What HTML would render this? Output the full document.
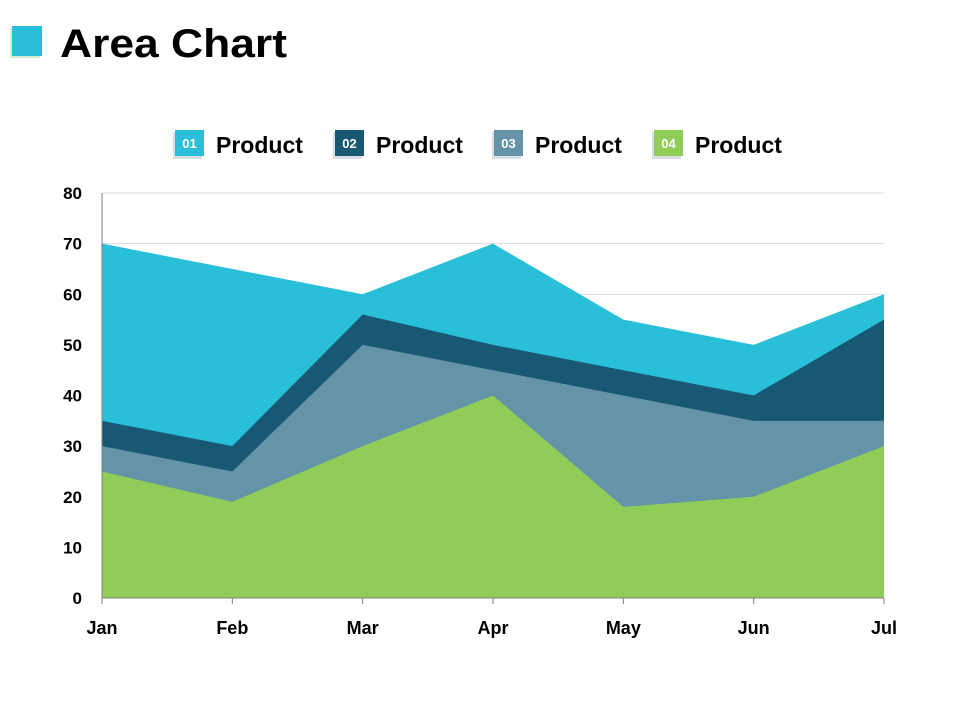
<!DOCTYPE html>
<html><head><meta charset="utf-8"><style>
body{margin:0;background:#fff;}
svg{display:block;font-family:"Liberation Sans",sans-serif;}
</style></head><body>
<svg id="c" width="960" height="720" viewBox="0 0 960 720">
<rect x="10" y="28" width="30" height="30" fill="#d8ecd0"/>
<rect x="12" y="26" width="30" height="30" fill="#29bfd8"/>
<text x="60" y="57" font-size="40" font-weight="bold" fill="#000" textLength="227" lengthAdjust="spacingAndGlyphs">Area Chart</text>
<g id="legend"></g>
<g id="grid"></g>
<g id="areas"></g>
<g id="axes"></g>
</svg>
<script>
const months=["Jan","Feb","Mar","Apr","May","Jun","Jul"];
const s1=[70,65,60,70,55,50,60];
const s2=[35,30,56,50,45,40,55];
const s3=[30,25,50,45,40,35,35];
const s4=[25,19,30,40,18,20,30];
const yTicks=[0,10,20,30,40,50,60,70,80];
const seriesNames=["Product","Product","Product","Product"];
const seriesCodes=["01","02","03","04"];
const colors=["#29bfd8","#185873","#6594a8","#8fcc58"];
const NS="http://www.w3.org/2000/svg";
const x0=102,x1=884,y0=598,y1=193,ymax=80;
function xs(i){return x0+(x1-x0)*i/(months.length-1);}
function ys(v){return y0-(y0-y1)*v/ymax;}
function mk(tag,attrs,parent){const e=document.createElementNS(NS,tag);for(const k in attrs)e.setAttribute(k,attrs[k]);parent.appendChild(e);return e;}
const grid=document.getElementById('grid'),areas=document.getElementById('areas'),axes=document.getElementById('axes'),legend=document.getElementById('legend');
yTicks.forEach(t=>{
 if(t>0){const l=mk('line',{x1:x0,x2:x1,y1:ys(t),y2:ys(t),stroke:'#d9d9d9','stroke-width':1},grid);
 
 }
 const tx=mk('text',{x:82,y:ys(t)+6,'text-anchor':'end','font-size':17,'font-weight':'bold',fill:'#000'},axes);
 tx.textContent=t;
 
 
});
[s1,s2,s3,s4].forEach((s,k)=>{
 let d='M'+xs(0)+','+y0;
 s.forEach((v,i)=>{d+=' L'+xs(i)+','+ys(v);});
 d+=' L'+xs(s.length-1)+','+y0+' Z';
 const p=mk('path',{d:d,fill:colors[k]},areas);
 
 
});
const ax=mk('line',{x1:x0,x2:x1,y1:y0,y2:y0,stroke:'#7f7f7f','stroke-width':1},axes);


const ay=mk('line',{x1:x0,x2:x0,y1:y1,y2:y0,stroke:'#7f7f7f','stroke-width':1},axes);


months.forEach((m,i)=>{
 const tk=mk('line',{x1:xs(i),x2:xs(i),y1:y0,y2:y0+6,stroke:'#7f7f7f'},axes);
 
 
 const t=mk('text',{x:xs(i),y:634,'text-anchor':'middle','font-size':18,'font-weight':'bold',fill:'#000'},axes);
 t.textContent=m;
 
 
});
const lx=[175,335,494,654];
seriesNames.forEach((n,k)=>{
 const g=mk('g',{},legend);
 
 
 mk('rect',{x:lx[k]-2,y:132,width:29,height:27,fill:'#d8dfe3'},g);
 mk('rect',{x:lx[k],y:130,width:29,height:26,fill:colors[k]},g);
 const c=mk('text',{x:lx[k]+14.5,y:148,'text-anchor':'middle','font-size':13,'font-weight':'bold',fill:'#fff'},g);
 c.textContent=seriesCodes[k];
 const t=mk('text',{x:lx[k]+41,y:153,'font-size':23,'font-weight':'bold',fill:'#000'},g);
 t.textContent=n;
});
</script>
</body></html>
